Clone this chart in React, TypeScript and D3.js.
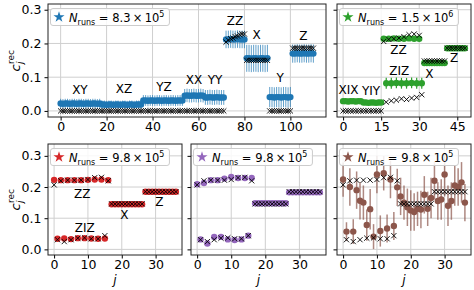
import { useEffect, useRef } from 'react';
import * as d3 from 'd3';

// ---- top left: N_runs = 8.3e5 (blue) ----
const tlGroups = ['XY', 'XZ', 'YZ', 'XX', 'YY', 'ZZ', 'X', 'Y', 'Z'];
const tlMeasured = [
  0.022, 0.021, 0.022, 0.022, 0.021, 0.022, 0.022, 0.021, 0.022, 0.022, 0.021, 0.022, 0.022, 0.021, 0.022, 0.022, 0.021, 0.022,
  0.019, 0.019, 0.018, 0.019, 0.019, 0.018, 0.019, 0.019, 0.018, 0.019, 0.019, 0.018, 0.019, 0.019, 0.018, 0.019, 0.019, 0.019,
  0.031, 0.031, 0.030, 0.031, 0.031, 0.030, 0.031, 0.031, 0.030, 0.031, 0.031, 0.030, 0.031, 0.031, 0.030, 0.031, 0.031, 0.031,
  0.045, 0.046, 0.045, 0.045, 0.046, 0.045, 0.045, 0.046, 0.045,
  0.040, 0.040, 0.041, 0.040, 0.040, 0.041, 0.040, 0.040, 0.040,
  0.212, 0.212, 0.213, 0.212, 0.212, 0.213, 0.212, 0.212, 0.212,
  0.156, 0.156, 0.155, 0.156, 0.156, 0.155, 0.156, 0.156, 0.155, 0.156,
  0.041, 0.041, 0.040, 0.041, 0.041, 0.040, 0.041, 0.041, 0.040, 0.041,
  0.170, 0.170, 0.171, 0.170, 0.170, 0.171, 0.170, 0.170, 0.171, 0.170,
];
const tlError = [
  0.014, 0.014, 0.014, 0.014, 0.014, 0.014, 0.014, 0.014, 0.014, 0.014, 0.014, 0.014, 0.014, 0.014, 0.014, 0.014, 0.014, 0.014,
  0.012, 0.012, 0.012, 0.012, 0.012, 0.012, 0.012, 0.012, 0.012, 0.012, 0.012, 0.012, 0.012, 0.012, 0.012, 0.012, 0.012, 0.012,
  0.016, 0.016, 0.016, 0.016, 0.016, 0.016, 0.016, 0.016, 0.016, 0.016, 0.016, 0.016, 0.016, 0.016, 0.016, 0.016, 0.016, 0.016,
  0.020, 0.020, 0.020, 0.020, 0.020, 0.020, 0.020, 0.020, 0.020,
  0.022, 0.022, 0.022, 0.022, 0.022, 0.022, 0.022, 0.022, 0.022,
  0.026, 0.026, 0.026, 0.026, 0.026, 0.026, 0.026, 0.026, 0.026,
  0.040, 0.040, 0.040, 0.040, 0.040, 0.040, 0.040, 0.040, 0.040, 0.040,
  0.030, 0.030, 0.030, 0.030, 0.030, 0.030, 0.030, 0.030, 0.030, 0.030,
  0.027, 0.027, 0.027, 0.027, 0.027, 0.027, 0.027, 0.027, 0.027, 0.027,
];
const tlExact = [
  0, 0, 0, 0, 0, 0, 0, 0, 0, 0, 0, 0, 0, 0, 0, 0, 0, 0,
  0, 0, 0, 0, 0, 0, 0, 0, 0, 0, 0, 0, 0, 0, 0, 0, 0, 0,
  0, 0, 0, 0, 0, 0, 0, 0, 0, 0, 0, 0, 0, 0, 0, 0, 0, 0,
  0, 0, 0, 0, 0, 0, 0, 0, 0,
  0, 0, 0, 0, 0, 0, 0, 0, 0,
  0.204, 0.210, 0.214, 0.216, 0.220, 0.222, 0.226, 0.228, 0.228,
  0.150, 0.150, 0.150, 0.150, 0.150, 0.150, 0.150, 0.150, 0.150, 0.150,
  0, 0, 0, 0, 0, 0, 0, 0, 0, 0,
  0.186, 0.186, 0.186, 0.186, 0.186, 0.186, 0.186, 0.186, 0.186, 0.186,
];
const tlLabelJ = [8.4, 27.6, 45, 58, 67.2, 75.9, 85.3, 95.5, 105.6];
const tlLabelV = [0.062, 0.065, 0.072, 0.092, 0.092, 0.267, 0.227, 0.098, 0.222];

// ---- top right: N_runs = 1.5e6 (green) ----
const trGroups = ['XIX', 'YIY', 'ZIZ', 'ZZ', 'X', 'Z'];
const trMeasured = [
  0.029, 0.029, 0.028, 0.029, 0.029, 0.028, 0.029, 0.029,
  0.025, 0.025, 0.024, 0.025, 0.025, 0.024, 0.025, 0.025,
  0.214, 0.082, 0.214, 0.082, 0.215, 0.083, 0.214, 0.082, 0.214, 0.082, 0.215, 0.083, 0.214, 0.082, 0.214, 0.082,
  0.142, 0.142, 0.142, 0.142, 0.142, 0.142, 0.142, 0.142, 0.142,
  0.186, 0.186, 0.186, 0.186, 0.186, 0.186, 0.186, 0.186,
];
const trError = [
  0.005, 0.005, 0.005, 0.005, 0.005, 0.005, 0.005, 0.005,
  0.005, 0.005, 0.005, 0.005, 0.005, 0.005, 0.005, 0.005,
  0.005, 0.016, 0.005, 0.016, 0.005, 0.016, 0.005, 0.016, 0.005, 0.016, 0.005, 0.016, 0.005, 0.016, 0.005, 0.016,
  0.005, 0.005, 0.005, 0.005, 0.005, 0.005, 0.005, 0.005, 0.005,
  0.004, 0.004, 0.004, 0.004, 0.004, 0.004, 0.004, 0.004,
];
const trExact = [
  0, 0, 0, 0, 0, 0, 0, 0,
  0, 0, 0, 0, 0, 0, 0, 0,
  0.206, 0.026, 0.212, 0.030, 0.214, 0.032, 0.216, 0.036, 0.220, 0.034, 0.226, 0.038, 0.228, 0.040, 0.224, 0.048,
  0.148, 0.148, 0.148, 0.148, 0.148, 0.148, 0.148, 0.148, 0.148,
  0.186, 0.186, 0.186, 0.186, 0.186, 0.186, 0.186, 0.186,
];
const trLabelJ = [2.1, 11, 22.1, 21.8, 34, 43.7];
const trLabelV = [0.064, 0.060, 0.119, 0.181, 0.109, 0.159];

// ---- bottom row: N_runs = 9.8e5, j = 0..36 ----
const bottomExact = [
  0.207, 0.031, 0.220, 0.025, 0.222, 0.031, 0.222, 0.036, 0.222, 0.037, 0.224, 0.034, 0.230, 0.034, 0.231, 0.044, 0.220,
  0.146, 0.146, 0.146, 0.146, 0.146, 0.146, 0.146, 0.146, 0.146, 0.146,
  0.185, 0.185, 0.185, 0.185, 0.185, 0.185, 0.185, 0.185, 0.185, 0.185,
];
const redMeasured = [
  0.223, 0.034, 0.222, 0.035, 0.222, 0.033, 0.222, 0.036, 0.222, 0.036, 0.223, 0.035, 0.224, 0.034, 0.224, 0.035, 0.222,
  0.145, 0.145, 0.145, 0.145, 0.145, 0.145, 0.145, 0.145, 0.145, 0.145,
  0.185, 0.185, 0.185, 0.185, 0.185, 0.185, 0.185, 0.185, 0.185, 0.185,
];
const redError = [
  0.003, 0.003, 0.003, 0.003, 0.003, 0.003, 0.003, 0.003, 0.003, 0.003, 0.003, 0.003, 0.003, 0.003, 0.003, 0.003, 0.003,
  0.003, 0.003, 0.003, 0.003, 0.003, 0.003, 0.003, 0.003, 0.003, 0.003,
  0.003, 0.003, 0.003, 0.003, 0.003, 0.003, 0.003, 0.003, 0.003, 0.003,
];
const purpleMeasured = [
  0.209, 0.032, 0.213, 0.019, 0.222, 0.040, 0.222, 0.040, 0.227, 0.032, 0.232, 0.030, 0.229, 0.032, 0.229, 0.044, 0.229,
  0.148, 0.148, 0.148, 0.148, 0.148, 0.148, 0.148, 0.148, 0.148, 0.148,
  0.183, 0.183, 0.183, 0.183, 0.183, 0.183, 0.183, 0.183, 0.183, 0.183,
];
const purpleError = [
  0.005, 0.005, 0.005, 0.005, 0.005, 0.005, 0.005, 0.005, 0.005, 0.005, 0.005, 0.005, 0.005, 0.005, 0.005, 0.005, 0.005,
  0.004, 0.004, 0.004, 0.004, 0.004, 0.004, 0.004, 0.004, 0.004, 0.004,
  0.004, 0.004, 0.004, 0.004, 0.004, 0.004, 0.004, 0.004, 0.004, 0.004,
];
const brownMeasured = [
  0.224, 0.057, 0.200, 0.057, 0.190, 0.156, 0.150, 0.078, 0.129, 0.041, 0.240, 0.059, 0.244, 0.067, 0.224, 0.075, 0.199,
  0.170, 0.150, 0.135, 0.125, 0.120, 0.130, 0.128, 0.175, 0.130, 0.165,
  0.220, 0.155, 0.160, 0.240, 0.140, 0.155, 0.205, 0.200, 0.215, 0.150,
];
const brownError = [
  0.055, 0.030, 0.060, 0.040, 0.060, 0.060, 0.055, 0.050, 0.065, 0.040, 0.060, 0.050, 0.055, 0.045, 0.060, 0.045, 0.060,
  0.060, 0.055, 0.060, 0.065, 0.060, 0.055, 0.060, 0.060, 0.055, 0.065,
  0.060, 0.060, 0.065, 0.070, 0.065, 0.060, 0.065, 0.060, 0.065, 0.060,
];
const blGroups = ['ZZ', 'ZIZ', 'X', 'Z'];
const blLabelJ = [8.3, 9.05, 20.8, 31.1];
const blLabelV = [0.180, 0.071, 0.110, 0.153];

const FONT = '"DejaVu Sans", sans-serif';

type Panel = {
  x0: number; x1: number; y0: number; y1: number;
  xDomain: [number, number]; yDomain: [number, number];
  xTicks: number[]; yLabels: boolean; xLabel: boolean;
  color: string; errWidth: number; errOpacity: number;
  measured: number[]; error: number[]; exact: number[];
  mantissa: string; exponent: string;
  labels: string[]; labelJ: number[]; labelV: number[];
};

const panels: Panel[] = [
  { x0: 48, x1: 326, y0: 4, y1: 117, xDomain: [-5.5, 115.5], yDomain: [-0.018, 0.317],
    xTicks: [0, 20, 40, 60, 80, 100], yLabels: true, xLabel: false,
    color: '#1f77b4', errWidth: 1, errOpacity: 0.7,
    measured: tlMeasured, error: tlError, exact: tlExact, mantissa: '8.3', exponent: '5',
    labels: tlGroups, labelJ: tlLabelJ, labelV: tlLabelV },
  { x0: 337, x1: 471, y0: 4, y1: 117, xDomain: [-2.4, 50.4], yDomain: [-0.018, 0.317],
    xTicks: [0, 15, 30, 45], yLabels: false, xLabel: false,
    color: '#2ca02c', errWidth: 1.2, errOpacity: 1,
    measured: trMeasured, error: trError, exact: trExact, mantissa: '1.5', exponent: '6',
    labels: trGroups, labelJ: trLabelJ, labelV: trLabelV },
  { x0: 48, x1: 182, y0: 144, y1: 255, xDomain: [-1.8, 37.8], yDomain: [-0.018, 0.338],
    xTicks: [0, 10, 20, 30], yLabels: true, xLabel: true,
    color: '#d62728', errWidth: 1, errOpacity: 0.8,
    measured: redMeasured, error: redError, exact: bottomExact, mantissa: '9.8', exponent: '5',
    labels: blGroups, labelJ: blLabelJ, labelV: blLabelV },
  { x0: 191, x1: 326, y0: 144, y1: 255, xDomain: [-1.8, 37.8], yDomain: [-0.018, 0.338],
    xTicks: [0, 10, 20, 30], yLabels: false, xLabel: true,
    color: '#9467bd', errWidth: 1, errOpacity: 0.8,
    measured: purpleMeasured, error: purpleError, exact: bottomExact, mantissa: '9.8', exponent: '5',
    labels: [], labelJ: [], labelV: [] },
  { x0: 337, x1: 471, y0: 144, y1: 255, xDomain: [-1.8, 37.8], yDomain: [-0.018, 0.338],
    xTicks: [0, 10, 20, 30], yLabels: false, xLabel: true,
    color: '#8c564b', errWidth: 1.5, errOpacity: 0.7,
    measured: brownMeasured, error: brownError, exact: bottomExact, mantissa: '9.8', exponent: '5',
    labels: [], labelJ: [], labelV: [] },
];

const yTicks = [0, 0.1, 0.2, 0.3];

function drawPanel(svg: any, p: Panel) {
  const x = d3.scaleLinear().domain(p.xDomain).range([p.x0, p.x1]);
  const y = d3.scaleLinear().domain(p.yDomain).range([p.y1, p.y0]);
  const g = svg.append('g');

  // grid
  g.append('g').selectAll('line').data(p.xTicks).join('line')
    .attr('x1', (d: number) => x(d)).attr('x2', (d: number) => x(d))
    .attr('y1', p.y0).attr('y2', p.y1)
    .attr('stroke', '#cfcfcf').attr('stroke-width', 1);
  g.append('g').selectAll('line').data(yTicks).join('line')
    .attr('y1', (d: number) => y(d)).attr('y2', (d: number) => y(d))
    .attr('x1', p.x0).attr('x2', p.x1)
    .attr('stroke', '#cfcfcf').attr('stroke-width', 1);

  const idx = p.measured.map((_, i) => i);

  // error bars
  g.append('g').selectAll('line').data(idx).join('line')
    .attr('x1', (i: number) => x(i)).attr('x2', (i: number) => x(i))
    .attr('y1', (i: number) => y(p.measured[i] - p.error[i]))
    .attr('y2', (i: number) => y(p.measured[i] + p.error[i]))
    .attr('stroke', p.color).attr('stroke-width', p.errWidth)
    .attr('stroke-opacity', p.errOpacity);

  // measured points
  g.append('g').selectAll('circle').data(idx).join('circle')
    .attr('cx', (i: number) => x(i)).attr('cy', (i: number) => y(p.measured[i]))
    .attr('r', 3.2).attr('fill', p.color);

  // exact values
  g.append('g').selectAll('path').data(idx).join('path')
    .attr('transform', (i: number) => `translate(${x(i)},${y(p.exact[i])})`)
    .attr('d', 'M-2.6,-2.6L2.6,2.6M-2.6,2.6L2.6,-2.6')
    .attr('stroke', '#000').attr('stroke-width', 0.9).attr('fill', 'none');

  // group labels
  g.append('g').selectAll('text').data(p.labels).join('text')
    .attr('x', (_: string, k: number) => x(p.labelJ[k]))
    .attr('y', (_: string, k: number) => y(p.labelV[k]))
    .attr('dy', '0.36em').attr('text-anchor', 'middle')
    .attr('font-family', FONT).attr('font-size', 12).attr('fill', '#000')
    .text((d: string) => d);

  // axes
  const xAxis = g.append('g').attr('transform', `translate(0,${p.y1})`)
    .call(d3.axisBottom(x).tickValues(p.xTicks).tickSize(3.5).tickPadding(2).tickFormat(d3.format('d')));
  xAxis.select('.domain').remove();
  xAxis.attr('font-size', 12.5).attr('font-family', FONT);

  const yAxis = g.append('g').attr('transform', `translate(${p.x0},0)`)
    .call(d3.axisLeft(y).tickValues(yTicks).tickSize(3.5).tickPadding(3)
      .tickFormat(p.yLabels ? d3.format('.1f') : () => ''));
  yAxis.select('.domain').remove();
  yAxis.attr('font-size', 12.5).attr('font-family', FONT);

  // frame
  g.append('rect')
    .attr('x', p.x0).attr('y', p.y0).attr('width', p.x1 - p.x0).attr('height', p.y1 - p.y0)
    .attr('fill', 'none').attr('stroke', '#222').attr('stroke-width', 1);

  // legend
  const leg = g.append('g');
  const box = leg.append('rect');
  leg.append('path')
    .attr('transform', `translate(${p.x0 + 11},${p.y0 + 13})`)
    .attr('d', d3.symbol(d3.symbolStar).size(38)())
    .attr('fill', p.color);
  const t = leg.append('text')
    .attr('x', p.x0 + 21).attr('y', p.y0 + 17.5)
    .attr('font-family', FONT).attr('font-size', 11.5).attr('fill', '#000');
  t.append('tspan').attr('font-style', 'italic').text('N');
  t.append('tspan').attr('font-size', 8).attr('dy', 3).text('runs');
  t.append('tspan').attr('dy', -3).text(`\u00a0=\u00a0${p.mantissa}\u2009×\u200910`);
  t.append('tspan').attr('font-size', 8).attr('dy', -5).text(p.exponent);
  const bb = t.node().getBBox();
  box.attr('x', p.x0 + 2.5).attr('y', p.y0 + 4.5)
    .attr('width', bb.x + bb.width + 5 - (p.x0 + 2.5)).attr('height', 17)
    .attr('rx', 2.5).attr('fill', '#fff').attr('fill-opacity', 0.85)
    .attr('stroke', '#cccccc').attr('stroke-width', 1);

  if (p.xLabel) {
    g.append('text')
      .attr('x', (p.x0 + p.x1) / 2).attr('y', 284)
      .attr('text-anchor', 'middle').attr('font-family', FONT)
      .attr('font-size', 12).attr('font-style', 'italic').text('j');
  }
  if (p.yLabels) {
    const lab = g.append('g')
      .attr('transform', `translate(20,${(p.y0 + p.y1) / 2}) rotate(-90)`)
      .attr('font-family', FONT).attr('fill', '#000');
    lab.append('text').attr('x', -11).attr('y', 0).attr('font-size', 13)
      .attr('font-style', 'italic').text('c');
    lab.append('text').attr('x', -3.5).attr('y', 3).attr('font-size', 9)
      .attr('font-style', 'italic').text('j');
    lab.append('text').attr('x', -3.5).attr('y', -6).attr('font-size', 9).text('rec');
  }
}

const App = () => {
  const ref = useRef<SVGSVGElement>(null);

  useEffect(() => {
    const svg = d3.select(ref.current);
    svg.selectAll('*').remove();
    svg.append('rect').attr('width', 474).attr('height', 290).attr('fill', '#fff');
    panels.forEach(p => drawPanel(svg, p));
  }, []);

  return (
    <svg ref={ref} width={474} height={290}
      style={{ position: 'absolute', left: 0, top: 0, display: 'block' }} />
  );
};

export default App;
